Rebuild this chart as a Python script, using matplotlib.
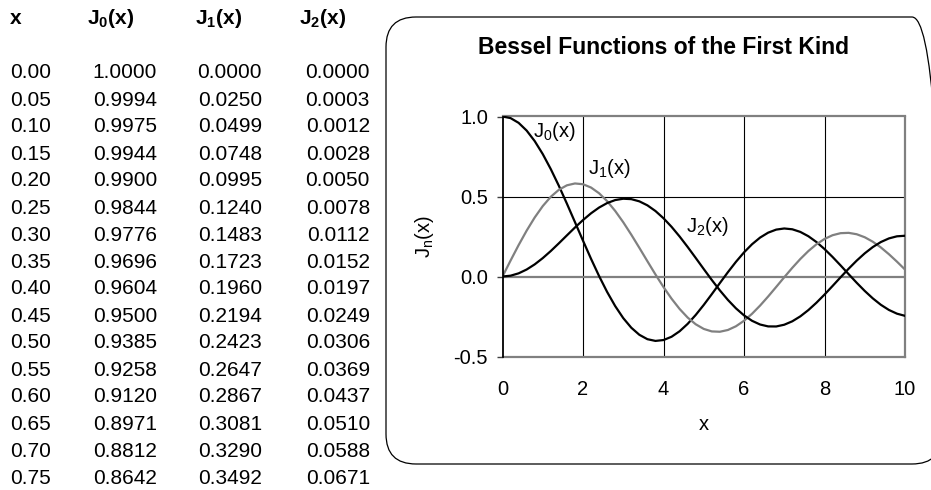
import numpy as np
import matplotlib
matplotlib.use("Agg")
import matplotlib.pyplot as plt
from matplotlib.patches import FancyBboxPatch

plt.rcParams['font.family'] = ['Liberation Sans', 'DejaVu Sans']
plt.rcParams['mathtext.fontset'] = 'custom'
plt.rcParams['mathtext.rm'] = 'Liberation Sans'
plt.rcParams['mathtext.it'] = 'Liberation Sans:italic'
plt.rcParams['mathtext.bf'] = 'Liberation Sans:bold'

# ---- table data (left side) ----
table_x = ["0.00", "0.05", "0.10", "0.15", "0.20", "0.25", "0.30", "0.35",
           "0.40", "0.45", "0.50", "0.55", "0.60", "0.65", "0.70", "0.75"]
table_j0 = ["1.0000", "0.9994", "0.9975", "0.9944", "0.9900", "0.9844", "0.9776", "0.9696",
            "0.9604", "0.9500", "0.9385", "0.9258", "0.9120", "0.8971", "0.8812", "0.8642"]
table_j1 = ["0.0000", "0.0250", "0.0499", "0.0748", "0.0995", "0.1240", "0.1483", "0.1723",
            "0.1960", "0.2194", "0.2423", "0.2647", "0.2867", "0.3081", "0.3290", "0.3492"]
table_j2 = ["0.0000", "0.0003", "0.0012", "0.0028", "0.0050", "0.0078", "0.0112", "0.0152",
            "0.0197", "0.0249", "0.0306", "0.0369", "0.0437", "0.0510", "0.0588", "0.0671"]
headers = ["x", r"J$_\mathbf{0}$(x)", r"J$_\mathbf{1}$(x)", r"J$_\mathbf{2}$(x)"]

# ---- chart data ----
x_vals = [0.0, 0.2, 0.4, 0.6, 0.8, 1.0, 1.2, 1.4, 1.6, 1.8, 2.0, 2.2, 2.4, 2.6, 2.8, 3.0,
          3.2, 3.4, 3.6, 3.8, 4.0, 4.2, 4.4, 4.6, 4.8, 5.0, 5.2, 5.4, 5.6, 5.8, 6.0, 6.2,
          6.4, 6.6, 6.8, 7.0, 7.2, 7.4, 7.6, 7.8, 8.0, 8.2, 8.4, 8.6, 8.8, 9.0, 9.2, 9.4,
          9.6, 9.8, 10.0]
J0 = [1.0000,0.9900,0.9604,0.9120,0.8463,0.7652,0.6711,0.5669,0.4554,0.3400,0.2239,0.1104,
      0.0025,-0.0968,-0.1850,-0.2601,-0.3202,-0.3643,-0.3918,-0.4026,-0.3971,-0.3766,-0.3423,
      -0.2961,-0.2404,-0.1776,-0.1103,-0.0412,0.0270,0.0917,0.1506,0.2017,0.2433,0.2740,
      0.2931,0.3001,0.2951,0.2786,0.2516,0.2154,0.1717,0.1222,0.0692,0.0146,-0.0392,-0.0903,
      -0.1367,-0.1768,-0.2090,-0.2323,-0.2459]
J1 = [0.0000,0.0995,0.1960,0.2867,0.3688,0.4401,0.4983,0.5419,0.5699,0.5815,0.5767,0.5560,
      0.5202,0.4708,0.4097,0.3391,0.2613,0.1792,0.0955,0.0128,-0.0660,-0.1386,-0.2028,
      -0.2566,-0.2985,-0.3276,-0.3432,-0.3453,-0.3343,-0.3110,-0.2767,-0.2329,-0.1816,
      -0.1250,-0.0652,-0.0047,0.0543,0.1096,0.1592,0.2014,0.2346,0.2580,0.2708,0.2728,
      0.2641,0.2453,0.2174,0.1816,0.1395,0.0928,0.0435]
J2 = [0.0000,0.0050,0.0197,0.0437,0.0758,0.1149,0.1593,0.2074,0.2570,0.3061,0.3528,0.3951,
      0.4310,0.4590,0.4777,0.4861,0.4835,0.4697,0.4448,0.4093,0.3641,0.3105,0.2501,0.1846,
      0.1161,0.0466,-0.0217,-0.0867,-0.1464,-0.1990,-0.2429,-0.2769,-0.3001,-0.3119,-0.3123,
      -0.3014,-0.2800,-0.2490,-0.2097,-0.1638,-0.1130,-0.0593,-0.0047,0.0488,0.0993,0.1448,
      0.1840,0.2154,0.2380,0.2512,0.2546]
x_ticks = [0, 2, 4, 6, 8, 10]
y_ticks = [-0.5, 0.0, 0.5, 1.0]
y_tick_labels = ["-0.5", "0.0", "0.5", "1.0"]
curve_labels = [r"J$_0$(x)", r"J$_1$(x)", r"J$_2$(x)"]
label_pos = [(0.76, 0.905), (2.12, 0.675), (4.55, 0.312)]

W, H = 931, 490
fig = plt.figure(figsize=(W / 100, H / 100), dpi=100)

def fx(px):
    return px / W

def fy(py):
    return 1 - py / H

# ---- table ----
TS = 15
hdr_x = [10, 87, 195, 299]
for hx, h in zip(hdr_x, headers):
    fig.text(fx(hx), fy(19), h, fontsize=TS, fontweight='bold', ha='left', va='center')
row0, dy = 73, 27.0
for i in range(len(table_x)):
    yy = fy(row0 + i * dy)
    fig.text(fx(10), yy, table_x[i], fontsize=TS, ha='left', va='center')
    fig.text(fx(157), yy, table_j0[i], fontsize=TS, ha='right', va='center')
    fig.text(fx(262), yy, table_j1[i], fontsize=TS, ha='right', va='center')
    fig.text(fx(370), yy, table_j2[i], fontsize=TS, ha='right', va='center')

# ---- chart box ----
box = FancyBboxPatch((3.86, (H - 464) / 100), (942 - 386) / 100, (464 - 17) / 100,
                     boxstyle="round,pad=0,rounding_size=0.3",
                     transform=fig.dpi_scale_trans, facecolor='none',
                     edgecolor='black', linewidth=0.9, clip_on=False)
fig.patches.append(box)

# ---- axes ----
L, R, T, B = 502.5, 905, 116.5, 356.5
ax = fig.add_axes([fx(L), fy(B), (R - L) / W, (B - T) / H])
gray = '#808080'
CS = 14.5
for xv in [2, 4, 6, 8]:
    ax.axvline(xv, color='black', lw=0.8, zorder=1)
ax.axhline(0.5, color='black', lw=0.8, zorder=1)
ax.axhline(0.0, color=gray, lw=1.6, zorder=1.5)

ax.plot(x_vals, J0, color='black', lw=1.6, zorder=3)
ax.plot(x_vals, J1, color=gray, lw=1.6, zorder=3)
ax.plot(x_vals, J2, color='black', lw=1.6, zorder=3)

for lab, (lx, ly) in zip(curve_labels, label_pos):
    ax.text(lx, ly, lab, fontsize=CS, ha='left', va='center', zorder=4)

ax.set_xlim(0, 10)
ax.set_ylim(-0.5, 1.0)
ax.set_xticks(x_ticks)
ax.set_xticklabels([str(v) for v in x_ticks], fontsize=CS)
ax.set_yticks(y_ticks)
ax.set_yticklabels(y_tick_labels, fontsize=CS)
ax.tick_params(axis='x', length=0, pad=17)
ax.tick_params(axis='y', direction='out', length=4.5, width=1, color='#404040', pad=6)
for s in ['top', 'right', 'bottom']:
    ax.spines[s].set_color(gray)
    ax.spines[s].set_linewidth(1.6)
ax.spines['left'].set_color('black')
ax.spines['left'].set_linewidth(1.3)
ax.spines['left'].set_zorder(5)

fig.text(fx(425), fy(237), r"J$_\mathrm{n}$(x)", fontsize=CS, rotation=90, ha='center', va='center')
fig.text(fx(704), fy(425), "x", fontsize=CS, ha='center', va='center')
fig.text(fx(664), fy(48), "Bessel Functions of the First Kind", fontsize=16.5,
         fontweight='bold', ha='center', va='center')

fig.savefig("out.png", dpi=100, facecolor='white')
